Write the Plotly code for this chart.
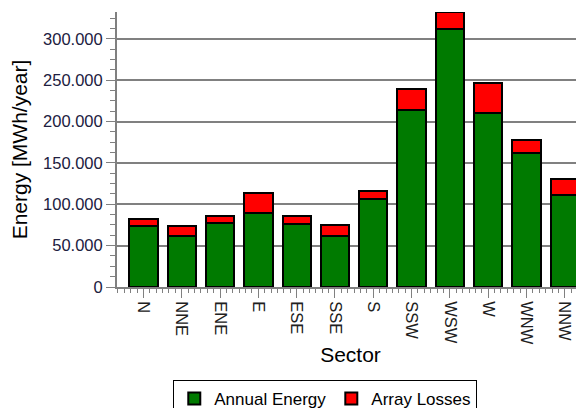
import plotly.graph_objects as go

sectors = ["N", "NNE", "ENE", "E", "ESE", "SSE", "S", "SSW", "WSW", "W", "WNW", "NNW"]
annual_energy = [74000, 61600, 77800, 89800, 76600, 61600, 106300, 214200, 312400, 210600, 161500, 110700]
array_losses = [8000, 12100, 8400, 23700, 9300, 12900, 10100, 25000, 19600, 36300, 15700, 19300]

x_pos = list(range(len(sectors)))

fig = go.Figure()

fig.add_trace(go.Bar(
    x=x_pos,
    y=annual_energy,
    name="Annual Energy",
    marker=dict(color="#007a00", line=dict(color="black", width=2)),
    width=0.74
))

fig.add_trace(go.Bar(
    x=x_pos,
    y=array_losses,
    name="Array Losses",
    marker=dict(color="#ff0000", line=dict(color="black", width=2)),
    width=0.74
))

# page body keeps an 8px margin, figure sits 8px in from the top left
fig.update_layout(
    barmode="stack",
    width=576,
    height=400,
    margin=dict(l=109, r=0, t=4, b=121, autoexpand=False),
    plot_bgcolor="white",
    paper_bgcolor="white",
    separators=",.",
    font=dict(family="Liberation Sans, Arial, sans-serif", color="black"),
    legend=dict(
        orientation="h",
        traceorder="normal",
        x=0.446,
        xanchor="center",
        y=-0.338,
        yanchor="top",
        bordercolor="black",
        borderwidth=1,
        font=dict(size=17),
        itemwidth=30
    )
)

fig.update_xaxes(
    automargin=False,
    range=[-0.69, 11.5],
    tickvals=x_pos,
    ticktext=sectors,
    tickangle=90,
    tickfont=dict(size=16.5, color="#202020"),
    ticks="outside",
    ticklen=9,
    tickcolor="#808080",
    minor=dict(dtick=1 / 6, tick0=0, ticks="outside", ticklen=4, tickcolor="#808080"),
    showline=True,
    linecolor="#808080",
    linewidth=2,
    showgrid=False,
    title=dict(text="Sector", font=dict(size=21), standoff=4)
)

fig.update_yaxes(
    automargin=False,
    range=[0, 332500],
    dtick=50000,
    tickformat=",d",
    tickfont=dict(size=16.5, color="#202040"),
    ticks="outside",
    ticklen=9,
    tickcolor="#808080",
    minor=dict(dtick=12500, ticks="outside", ticklen=5, tickcolor="#808080", showgrid=False),
    showline=True,
    linecolor="#808080",
    linewidth=2,
    showgrid=True,
    gridcolor="#808080",
    gridwidth=2,
    zeroline=False,
    title=dict(text="Energy [MWh/year]", font=dict(size=21), standoff=12)
)

fig.write_html("out.html")
